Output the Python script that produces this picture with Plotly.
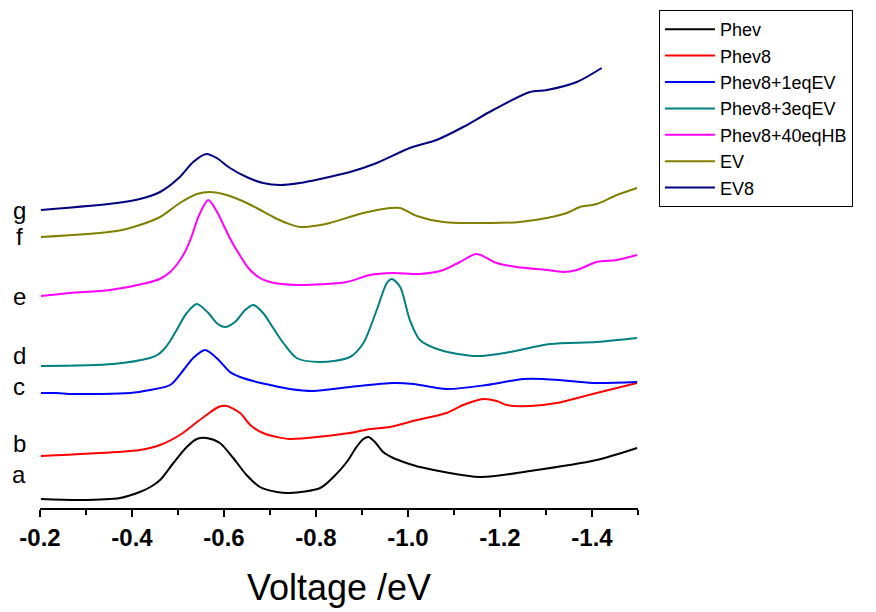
import plotly.graph_objects as go

# ---- data (voltage in V, current in arbitrary units, offset-stacked) ----
phev_x = [-0.202, -0.287, -0.374, -0.417, -0.440, -0.461, -0.490, -0.519, -0.541, -0.562, -0.591, -0.620,
          -0.649, -0.678, -0.715, -0.743, -0.809, -0.838, -0.867, -0.888, -0.903, -0.914, -0.928, -0.946,
          -0.968, -0.997, -1.026, -1.157, -1.265, -1.410, -1.498]
phev_y = [0.09, 0.08, 0.10, 0.16, 0.21, 0.28, 0.45, 0.61, 0.69, 0.70, 0.65, 0.50,
          0.33, 0.21, 0.16, 0.15, 0.20, 0.31, 0.46, 0.61, 0.69, 0.71, 0.66, 0.56,
          0.50, 0.45, 0.41, 0.31, 0.37, 0.48, 0.60]

phev8_x = [-0.202, -0.367, -0.417, -0.461, -0.504, -0.533, -0.562, -0.588, -0.606, -0.635, -0.657, -0.685,
           -0.715, -0.743, -0.874, -0.917, -0.961, -1.019, -1.084, -1.120, -1.164, -1.193, -1.215, -1.265,
           -1.323, -1.410, -1.498]
phev8_y = [0.52, 0.56, 0.58, 0.63, 0.73, 0.83, 0.93, 1.01, 1.02, 0.95, 0.83, 0.75,
           0.71, 0.69, 0.75, 0.79, 0.81, 0.88, 0.95, 1.03, 1.09, 1.07, 1.03, 1.02,
           1.05, 1.15, 1.25]

ev1_x = [-0.202, -0.236, -0.272, -0.396, -0.439, -0.483, -0.512, -0.533, -0.559, -0.584, -0.613, -0.635,
         -0.671, -0.700, -0.743, -0.794, -0.874, -0.968, -1.012, -1.084, -1.171, -1.251, -1.294, -1.352,
         -1.410, -1.498]
ev1_y = [1.15, 1.15, 1.14, 1.15, 1.18, 1.23, 1.38, 1.50, 1.58, 1.50, 1.36, 1.31,
         1.26, 1.23, 1.19, 1.17, 1.21, 1.25, 1.24, 1.19, 1.23, 1.29, 1.29, 1.27,
         1.25, 1.26]

ev3_x = [-0.202, -0.359, -0.439, -0.455, -0.468, -0.483, -0.497, -0.519, -0.541, -0.566, -0.584, -0.602,
         -0.624, -0.646, -0.664, -0.685, -0.707, -0.729, -0.758, -0.809, -0.874, -0.903, -0.932, -0.954,
         -0.965, -0.983, -1.004, -1.026, -1.070, -1.149, -1.222, -1.309, -1.410, -1.498]
ev3_y = [1.42, 1.44, 1.50, 1.53, 1.58, 1.67, 1.78, 1.95, 2.04, 1.95, 1.85, 1.81,
         1.86, 1.98, 2.03, 1.95, 1.80, 1.65, 1.50, 1.46, 1.51, 1.65, 1.98, 2.25,
         2.29, 2.21, 1.88, 1.68, 1.58, 1.52, 1.56, 1.64, 1.66, 1.70]

hb_x = [-0.202, -0.265, -0.352, -0.432, -0.460, -0.483, -0.500, -0.515, -0.530, -0.545, -0.566, -0.585,
        -0.600, -0.615, -0.630, -0.653, -0.678, -0.700, -0.758, -0.867, -0.917, -0.968, -1.026, -1.077,
        -1.113, -1.149, -1.193, -1.236, -1.302, -1.337, -1.367, -1.410, -1.454, -1.498]
hb_y = [2.12, 2.15, 2.18, 2.25, 2.29, 2.36, 2.45, 2.56, 2.72, 2.92, 3.08, 2.96,
        2.82, 2.68, 2.56, 2.40, 2.30, 2.26, 2.23, 2.26, 2.33, 2.35, 2.34, 2.38,
        2.46, 2.54, 2.45, 2.41, 2.38, 2.36, 2.38, 2.46, 2.48, 2.53]

ev_x = [-0.202, -0.367, -0.417, -0.461, -0.504, -0.541, -0.570, -0.598, -0.635, -0.671, -0.707, -0.736,
        -0.765, -0.809, -0.830, -0.903, -0.961, -0.983, -1.019, -1.077, -1.178, -1.243, -1.302, -1.345,
        -1.374, -1.410, -1.454, -1.498]
ev_y = [2.71, 2.77, 2.83, 2.91, 3.05, 3.14, 3.16, 3.14, 3.08, 3.00, 2.91, 2.85,
        2.81, 2.83, 2.85, 2.95, 3.00, 3.00, 2.92, 2.86, 2.85, 2.86, 2.90, 2.95,
        3.01, 3.04, 3.13, 3.20]

ev8_x = [-0.202, -0.367, -0.417, -0.461, -0.504, -0.533, -0.562, -0.584, -0.613, -0.649, -0.685, -0.722,
         -0.765, -0.809, -0.874, -0.932, -1.004, -1.062, -1.120, -1.185, -1.265, -1.302, -1.367, -1.421]
ev8_y = [2.98, 3.05, 3.09, 3.16, 3.31, 3.46, 3.54, 3.50, 3.40, 3.31, 3.25, 3.23,
         3.25, 3.29, 3.36, 3.45, 3.60, 3.68, 3.81, 3.98, 4.16, 4.18, 4.26, 4.40]

series_names = ["Phev", "Phev8", "Phev8+1eqEV", "Phev8+3eqEV", "Phev8+40eqHB", "EV", "EV8"]
series_colors = ["#000000", "#ff0000", "#0000ff", "#008080", "#ff00ff", "#808000", "#000080"]
series_x = [phev_x, phev8_x, ev1_x, ev3_x, hb_x, ev_x, ev8_x]
series_y = [phev_y, phev8_y, ev1_y, ev3_y, hb_y, ev_y, ev8_y]

curve_letters = ["a", "b", "c", "d", "e", "f", "g"]
letter_y = [0.34, 0.65, 1.22, 1.53, 2.12, 2.72, 2.98]

tick_vals = [-0.2, -0.4, -0.6, -0.8, -1.0, -1.2, -1.4]
tick_text = ["-0.2", "-0.4", "-0.6", "-0.8", "-1.0", "-1.2", "-1.4"]
minor_vals = [-0.3, -0.5, -0.7, -0.9, -1.1, -1.3, -1.5]

FONT = "Liberation Sans, Arial"

fig = go.Figure()
for name, color, xs, ys in zip(series_names, series_colors, series_x, series_y):
    fig.add_trace(go.Scatter(x=xs, y=ys, mode="lines", name=name,
                             line=dict(color=color, width=2, shape="spline", smoothing=0.8)))

for letter, ly in zip(curve_letters, letter_y):
    fig.add_annotation(x=-0.035, xref="paper", y=ly, yref="y", text=letter, showarrow=False,
                       xanchor="center", yanchor="middle",
                       font=dict(family=FONT, size=24, color="#000"))

fig.update_layout(
    width=876, height=612,
    margin=dict(l=32, r=246, t=2, b=112),
    plot_bgcolor="white", paper_bgcolor="white",
    font=dict(family=FONT, color="#000"),
    showlegend=True,
    legend=dict(x=1.035, xanchor="left", y=1.0, yanchor="top",
                bordercolor="#000", borderwidth=1, bgcolor="white",
                font=dict(size=18, family=FONT, color="#000"),
                tracegroupgap=0, itemwidth=50),
    xaxis=dict(range=[-0.2, -1.5], tickvals=tick_vals, ticktext=tick_text,
               showline=True, linecolor="#000", linewidth=1.5,
               ticks="outside", ticklen=7, tickwidth=1.5, tickcolor="#000",
               minor=dict(tickvals=minor_vals, ticks="outside", ticklen=5, tickwidth=1.5, tickcolor="#000"),
               showgrid=False, zeroline=False,
               tickfont=dict(size=24, family=FONT, color="#000", weight="bold"),
               title=dict(text="Voltage /eV", font=dict(size=36, family=FONT, color="#000"),
                          standoff=25)),
    yaxis=dict(range=[0, 4.98], visible=False, showgrid=False, zeroline=False),
)

fig.write_html("out.html")
